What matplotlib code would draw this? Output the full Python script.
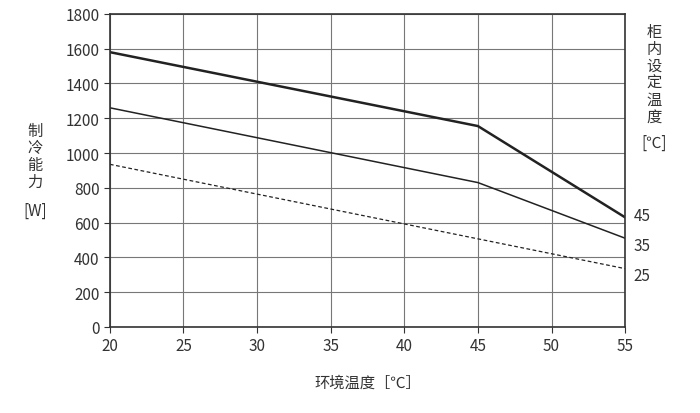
import matplotlib
matplotlib.use("Agg")
import matplotlib.pyplot as plt

plt.rcParams['font.family'] = ['Noto Sans CJK SC', 'DejaVu Sans']

x45 = [20, 45, 55]; y45 = [1580, 1155, 630]
x35 = [20, 45, 55]; y35 = [1260, 830, 510]
x25 = [20, 55]; y25 = [935, 335]
labels = ['45', '35', '25']

fig = plt.figure(figsize=(7, 4.14), dpi=100)
ax = fig.add_axes([0.157, 0.208, 0.736, 0.756])
ax.plot(x45, y45, color='#222222', lw=1.8)
ax.plot(x35, y35, color='#222222', lw=1.1)
ax.plot(x25, y25, color='#222222', lw=0.9, ls=(0, (3, 2)))
ax.set_xlim(20, 55); ax.set_ylim(0, 1800)
ax.set_xticks(range(20, 56, 5)); ax.set_yticks(range(0, 1801, 200))
ax.grid(True, color='#777777', lw=0.8)
for s in ax.spines.values():
    s.set_color('#333333'); s.set_linewidth(1.2)
ax.tick_params(labelsize=11, colors='#333333', length=4)
for y, l in zip([y45[-1], y35[-1], y25[-1]], labels):
    off = {'45': 1, '35': -5, '25': -5}[l]
    ax.annotate(l, (55, y), xytext=(6, off), textcoords='offset points',
                va='center', fontsize=11, color='#333333', annotation_clip=False)
ax.set_xlabel('环境温度［℃］', fontsize=11, color='#333333', labelpad=14)
fig.text(0.05, 0.62, '制\n冷\n能\n力', ha='center', va='center', fontsize=11, color='#333333', linespacing=1.0)
fig.text(0.05, 0.49, '[W]', ha='center', va='center', fontsize=11, color='#333333')
fig.text(0.935, 0.82, '柜\n内\n设\n定\n温\n度', ha='center', va='center', fontsize=11, color='#333333', linespacing=1.0)
fig.text(0.935, 0.655, '[℃]', ha='center', va='center', fontsize=11, color='#333333')
fig.savefig('out.png', dpi=100)
